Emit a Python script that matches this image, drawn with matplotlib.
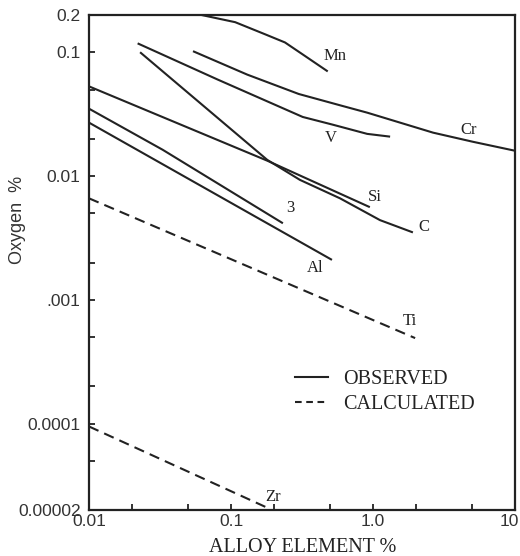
import matplotlib
matplotlib.use("Agg")
import matplotlib.pyplot as plt
from matplotlib.lines import Line2D
from matplotlib.ticker import FixedLocator, NullFormatter
from matplotlib.transforms import ScaledTranslation

# ---- data ----
mn_x = [0.062, 0.107, 0.173, 0.24, 0.32, 0.48]
mn_y = [0.2, 0.175, 0.14, 0.12, 0.096, 0.07]

cr_x = [0.054, 0.13, 0.30, 0.60, 0.91, 2.65, 5.06, 10.0]
cr_y = [0.102, 0.066, 0.046, 0.037, 0.0325, 0.0224, 0.0189, 0.016]

v_x = [0.022, 0.081, 0.32, 0.52, 0.91, 1.32]
v_y = [0.118, 0.060, 0.030, 0.026, 0.0219, 0.0208]

si_x = [0.01, 0.18, 0.95]
si_y = [0.053, 0.0133, 0.0056]

c_x = [0.0229, 0.18, 0.306, 0.586, 1.12, 1.91]
c_y = [0.100, 0.0135, 0.0093, 0.0066, 0.0044, 0.0035]

l3_x = [0.01, 0.033, 0.232]
l3_y = [0.035, 0.0163, 0.00415]

al_x = [0.01, 0.514]
al_y = [0.027, 0.0021]

ti_x = [0.01, 1.98]
ti_y = [0.0066, 0.00049]

zr_x = [0.01, 0.188]
zr_y = [0.0000946, 0.0000204]

observed = [(mn_x, mn_y), (cr_x, cr_y), (v_x, v_y), (si_x, si_y),
            (c_x, c_y), (l3_x, l3_y), (al_x, al_y)]
calculated = [(ti_x, ti_y), (zr_x, zr_y)]

curve_labels = ["Mn", "Cr", "V", "Si", "C", "3", "Al", "Ti", "Zr"]
label_x = [0.54, 4.74, 0.506, 1.03, 2.29, 0.26, 0.39, 1.82, 0.198]
label_y = [0.0928, 0.0237, 0.0204, 0.00675, 0.00385, 0.0055, 0.00182, 0.000675, 0.0000255]

x_major = [0.01, 0.1, 1.0, 10]
x_major_labels = ["0.01", "0.1", "1.0", "10"]
x_minor = [0.02, 0.05, 0.2, 0.5, 2, 5]
y_major = [0.2, 0.1, 0.01, 0.001, 0.0001, 0.00002]
y_major_labels = ["0.2", "0.1", "0.01", ".001", "0.0001", "0.00002"]
y_minor = [0.05, 0.02, 0.005, 0.002, 0.0005, 0.0002, 0.00005]

# ---- figure ----
W, H = 520, 556
fig = plt.figure(figsize=(W / 100, H / 100), dpi=100)
ax = fig.add_axes([89 / W, 1 - 510 / H, (515 - 89) / W, (510 - 15) / H])
ax.set_xscale("log")
ax.set_yscale("log")
ax.set_xlim(0.01, 10)
ax.set_ylim(0.00002, 0.2)

ink = "#222222"
lw = 1.5
for xs, ys in observed:
    ax.plot(xs, ys, color=ink, lw=lw, solid_capstyle="butt")
for xs, ys in calculated:
    ax.plot(xs, ys, color=ink, lw=lw, linestyle=(0, (5, 3)))

serif = ["Liberation Serif", "DejaVu Serif"]
sans = ["Liberation Sans", "DejaVu Sans"]

for t, lx, ly in zip(curve_labels, label_x, label_y):
    ax.text(lx, ly, t, fontsize=12, family=serif, color=ink,
            ha="center", va="center")

# ticks
ax.xaxis.set_major_locator(FixedLocator(x_major))
ax.xaxis.set_minor_locator(FixedLocator(x_minor))
ax.set_xticklabels(x_major_labels)
ax.xaxis.set_minor_formatter(NullFormatter())
ax.yaxis.set_major_locator(FixedLocator(y_major))
ax.yaxis.set_minor_locator(FixedLocator(y_minor))
ax.set_yticklabels(y_major_labels)
ax.yaxis.set_minor_formatter(NullFormatter())
ax.tick_params(which="both", direction="in", color=ink, width=1.3,
               top=False, right=False)
ax.tick_params(which="major", length=4.5)
ax.tick_params(which="minor", length=4.0)
ax.tick_params(axis="x", which="major", pad=3)
ax.tick_params(axis="y", which="major", pad=6)
for lab in ax.get_xticklabels() + ax.get_yticklabels():
    lab.set_family(sans)
    lab.set_fontsize(12.5)
    lab.set_color("#333333")
# keep the last x label ("10") inside the image edge
last = ax.get_xticklabels()[-1]
last.set_transform(last.get_transform() +
                   ScaledTranslation(-6 / 100, 0, fig.dpi_scale_trans))
for sp in ax.spines.values():
    sp.set_linewidth(1.6)
    sp.set_color(ink)

fig.text(303 / W, 1 - 547 / H, "ALLOY ELEMENT %", family=serif, fontsize=14.5,
         color=ink, ha="center", va="center")
fig.text(18 / W, 1 - 220 / H, "Oxygen  %", family=sans, fontsize=13,
         color="#333333", rotation=90, ha="center", va="center")

handles = [Line2D([], [], color=ink, lw=lw),
           Line2D([], [], color=ink, lw=lw, linestyle=(0, (3.2, 2.2)))]
leg = ax.legend(handles, ["OBSERVED", "CALCULATED"], loc="upper left",
                bbox_to_anchor=(295 / W, 1 - 370 / H),
                bbox_transform=fig.transFigure, frameon=False,
                prop={"family": serif, "size": 14.5}, handlelength=1.65,
                handletextpad=0.75, labelspacing=0.3, borderpad=0,
                borderaxespad=0)
for t in leg.get_texts():
    t.set_color(ink)

fig.savefig("out.png", dpi=100, facecolor="white")
